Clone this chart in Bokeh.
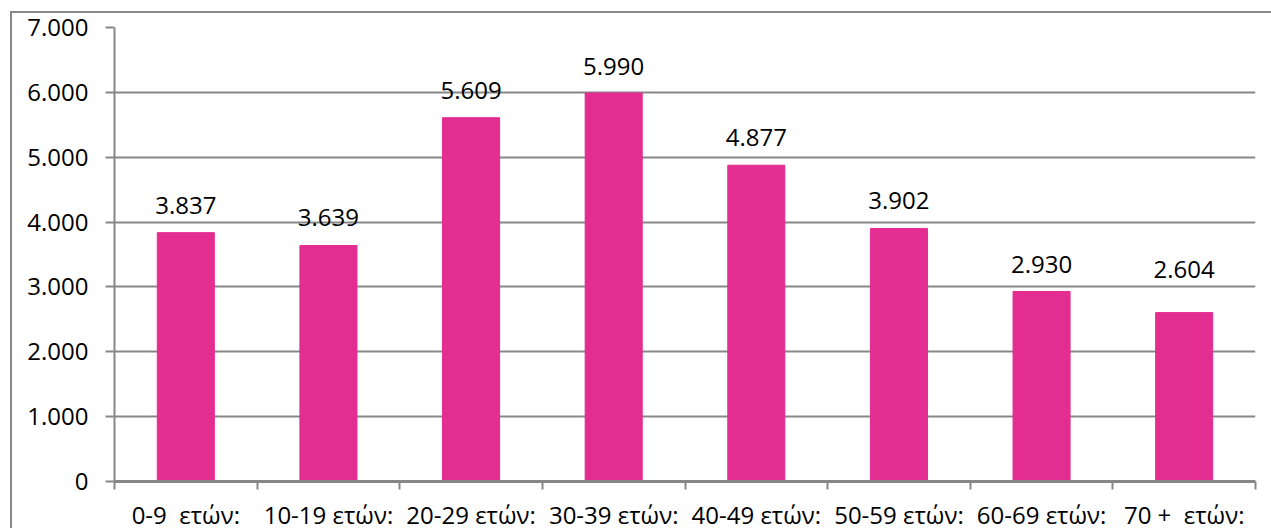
from bokeh.plotting import figure
from bokeh.models import Range1d, FixedTicker, CustomJSTickFormatter, ColumnDataSource
from bokeh.core.properties import value
from bokeh.embed import file_html
from bokeh.resources import INLINE

# ---- data ----
categories = ["0-9  ετών:", "10-19 ετών:", "20-29 ετών:", "30-39 ετών:",
              "40-49 ετών:", "50-59 ετών:", "60-69 ετών:", "70 +  ετών:"]
values = [3837, 3639, 5609, 5990, 4877, 3902, 2930, 2604]
y_ticks = [0, 1000, 2000, 3000, 4000, 5000, 6000, 7000]

# ---- styles ----
FONT = "Open Sans"
FS = "24px"
GRAY = "#878787"
BAR = "#E32D91"
label_lift = [-27, -28, -27, -27, -28, -28, -27, -43]  # screen-pixel offsets of value labels


def fmt(v):
    return f"{v:,}".replace(",", ".")


centers = [i + 0.5 for i in range(len(categories))]
bounds = [i for i in range(len(categories) + 1)]

src = ColumnDataSource(dict(x=centers, top=values, lab=[fmt(v) for v in values],
                            off=label_lift))

p = figure(width=1271, height=533, output_backend="svg", toolbar_location=None,
           x_range=Range1d(0, len(categories)), y_range=Range1d(0, 7000),
           min_border_left=114, min_border_right=16, min_border_top=27, min_border_bottom=46)
p.outline_line_color = None
p.background_fill_color = "white"
p.border_fill_color = None
p.styles = {
    "background-color": "white",
    "background-image": f"linear-gradient({GRAY}, {GRAY}), linear-gradient({GRAY}, {GRAY})",
    "background-size": "2px 100%, 100% 2px",
    "background-position": "10px 11px, 10px 11px",
    "background-repeat": "no-repeat",
    "margin-bottom": "-6px",
}

p.vbar(x="x", top="top", width=0.4, bottom=0, source=src, color=BAR)
p.text(x="x", y="top", text="lab", source=src, text_align="center",
       text_baseline="alphabetic", y_offset="off",
       text_font=value(FONT), text_font_size=FS, text_color="black")

# y axis
p.yaxis.ticker = FixedTicker(ticks=y_ticks)
p.yaxis.formatter = CustomJSTickFormatter(
    code="return Math.round(tick).toString().replace(/\\B(?=(\\d{3})+(?!\\d))/g, '.');")
p.yaxis.axis_line_color = GRAY
p.yaxis.axis_line_width = 2
p.yaxis.major_tick_line_color = GRAY
p.yaxis.major_tick_line_width = 2
p.yaxis.major_tick_out = 9
p.yaxis.major_tick_in = 0
p.yaxis.minor_tick_line_color = None
p.yaxis.major_label_standoff = 17
p.yaxis.major_label_text_font = FONT
p.yaxis.major_label_text_font_size = FS
p.yaxis.major_label_text_color = "black"

# x axis
p.xaxis.ticker = FixedTicker(ticks=centers, minor_ticks=bounds)
p.xaxis.major_label_overrides = {c: lab.replace("  ", " \u00a0") for c, lab in zip(centers, categories)}
p.xaxis.axis_line_color = GRAY
p.xaxis.axis_line_width = 3
p.xaxis.major_tick_line_color = None
p.xaxis.major_tick_out = 0
p.xaxis.major_tick_in = 0
p.xaxis.minor_tick_line_color = GRAY
p.xaxis.minor_tick_line_width = 2
p.xaxis.minor_tick_out = 8
p.xaxis.minor_tick_in = 0
p.xaxis.major_label_standoff = 8
p.xaxis.major_label_text_font = FONT
p.xaxis.major_label_text_font_size = FS
p.xaxis.major_label_text_color = "black"

p.xgrid.grid_line_color = None
p.ygrid.ticker = FixedTicker(ticks=y_ticks)
p.ygrid.grid_line_color = GRAY
p.ygrid.grid_line_width = 2

open("out.html", "w").write(file_html(p, INLINE))
